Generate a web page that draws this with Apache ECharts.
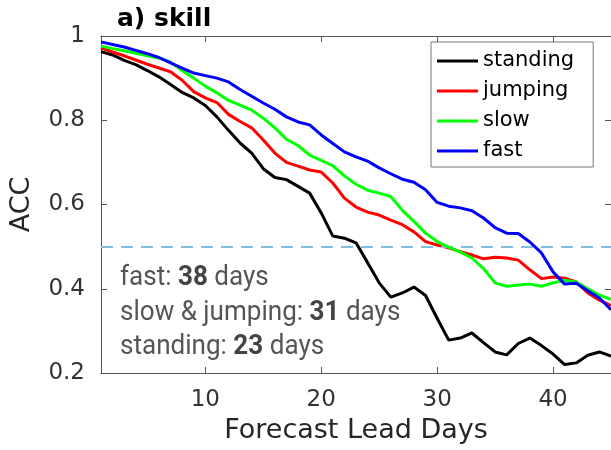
<!DOCTYPE html>
<html>
<head>
<meta charset="utf-8">
<script src="https://cdn.jsdelivr.net/npm/echarts@6/dist/echarts.min.js"></script>
<style>html,body{margin:0;padding:0;background:#fff}#c{width:611px;height:450px}</style>
</head>
<body>
<div id="c"></div>
<script>
const days = [1,2,3,4,5,6,7,8,9,10,11,12,13,14,15,16,17,18,19,20,21,22,23,24,25,26,27,28,29,30,31,32,33,34,35,36,37,38,39,40,41,42,43,44,45];
const standing = [0.963,0.955,0.942,0.932,0.918,0.903,0.885,0.866,0.853,0.835,0.808,0.776,0.746,0.722,0.685,0.664,0.659,0.643,0.627,0.58,0.525,0.52,0.509,0.462,0.414,0.38,0.39,0.404,0.384,0.33,0.278,0.283,0.295,0.272,0.25,0.243,0.27,0.283,0.265,0.245,0.22,0.224,0.242,0.25,0.24];
const jumping = [0.972,0.962,0.953,0.943,0.933,0.924,0.915,0.895,0.868,0.853,0.842,0.814,0.797,0.782,0.753,0.722,0.70,0.691,0.682,0.677,0.651,0.615,0.594,0.582,0.575,0.563,0.552,0.535,0.512,0.504,0.497,0.488,0.48,0.471,0.475,0.473,0.468,0.445,0.424,0.428,0.425,0.416,0.39,0.373,0.36];
const slow = [0.976,0.97,0.965,0.959,0.953,0.948,0.938,0.918,0.9,0.881,0.865,0.847,0.836,0.824,0.805,0.782,0.755,0.74,0.717,0.705,0.692,0.668,0.648,0.634,0.627,0.619,0.586,0.56,0.532,0.512,0.499,0.487,0.473,0.448,0.414,0.406,0.409,0.411,0.406,0.414,0.42,0.416,0.4,0.385,0.375];
const fast = [0.986,0.98,0.974,0.966,0.958,0.949,0.936,0.924,0.912,0.906,0.9,0.891,0.873,0.857,0.841,0.826,0.808,0.796,0.789,0.765,0.745,0.725,0.713,0.703,0.687,0.673,0.66,0.653,0.635,0.605,0.596,0.592,0.585,0.568,0.545,0.532,0.531,0.511,0.485,0.44,0.411,0.413,0.395,0.378,0.35];
const seriesNames = ['standing','jumping','slow','fast'];
const xTicks = [10,20,30,40];
const threshold = 0.5;
const leadFast = 38, leadSlowJump = 31, leadStanding = 23;

const colors = ['#000000','#ff0000','#00ff00','#0000ff'];
const values = [standing, jumping, slow, fast];
const axisCol = '#555';
const font = 'DejaVu Sans';

const chart = echarts.init(document.getElementById('c'), null, {renderer:'canvas'});
const series = values.map((v, k) => ({
  name: seriesNames[k],
  type: 'line',
  data: days.map((d, i) => [d, v[i]]),
  symbol: 'none',
  lineStyle: {width: 3, color: colors[k]},
  itemStyle: {color: colors[k]},
  z: 3 + k,
  animation: false,
  markLine: k === 0 ? {
    silent: true, symbol: 'none', animation: false,
    label: {show: false},
    lineStyle: {type: [12, 8], color: '#80bde3', width: 2},
    data: [{yAxis: threshold}]
  } : undefined
}));

const nStyle = {fontFamily: 'Roboto', fontSize: 27, fontWeight: 'normal', fill: '#555', lineHeight: 34.5};
const bStyle = {fontFamily: 'Roboto', fontSize: 27, fontWeight: 'bold', fill: '#444', lineHeight: 34.5};

chart.setOption({
  animation: false,
  title: [
    {text: 'a) skill', left: 117, top: 7, padding: 0,
     textStyle: {fontFamily: font, fontWeight: 'bold', fontSize: 25, color: '#000'}}
  ],
  graphic: [{
    type: 'text', left: 120, top: 265, scaleX: 0.965, z: 20,
    style: {
      text: '{n|fast: }{b|' + leadFast + '}{n| days}\n{n|slow & jumping: }{b|' + leadSlowJump + '}{n| days}\n{n|standing: }{b|' + leadStanding + '}{n| days}',
      rich: {n: nStyle, b: bStyle}
    }
  }],
  legend: {
    data: seriesNames,
    orient: 'vertical',
    left: 431, top: 42,
    padding: [8, 19, 5, 6],
    icon: 'rect',
    itemWidth: 41, itemHeight: 3, itemGap: 8,
    backgroundColor: '#fff',
    borderColor: '#777', borderWidth: 1,
    textStyle: {fontFamily: font, fontSize: 21, color: '#000', lineHeight: 22}
  },
  grid: {left: 101, top: 36, right: -4.4, bottom: 77, containLabel: false},
  xAxis: [
    {type: 'value', min: 1, max: 45, position: 'bottom',
     name: 'Forecast Lead Days', nameLocation: 'middle', nameGap: 44,
     nameTextStyle: {fontFamily: font, fontSize: 27, color: '#262626'},
     axisLine: {lineStyle: {color: axisCol, width: 1}},
     axisTick: {inside: true, length: 6, customValues: xTicks, lineStyle: {color: axisCol}},
     axisLabel: {customValues: xTicks, margin: 16, fontFamily: font, fontSize: 23, color: '#333'},
     splitLine: {show: false}},
    {type: 'value', min: 1, max: 45, position: 'top',
     axisLine: {lineStyle: {color: axisCol, width: 1}},
     axisTick: {inside: true, length: 6, customValues: xTicks, lineStyle: {color: axisCol}},
     axisLabel: {show: false}, splitLine: {show: false}}
  ],
  yAxis: [
    {type: 'value', min: 0.2, max: 1, interval: 0.2, position: 'left',
     name: 'ACC', nameLocation: 'middle', nameGap: 66,
     nameTextStyle: {fontFamily: font, fontSize: 27, color: '#262626'},
     axisLine: {show: true, lineStyle: {color: axisCol, width: 1}},
     axisTick: {show: true, inside: true, length: 6, lineStyle: {color: axisCol}},
     axisLabel: {margin: 16, fontFamily: font, fontSize: 23, color: '#333'},
     splitLine: {show: false}},
    {type: 'value', min: 0.2, max: 1, interval: 0.2, position: 'right',
     axisLine: {show: true, lineStyle: {color: axisCol, width: 1}},
     axisTick: {show: true, inside: true, length: 6, lineStyle: {color: axisCol}},
     axisLabel: {show: false}, splitLine: {show: false}}
  ],
  series: series
});
</script>
</body>
</html>
